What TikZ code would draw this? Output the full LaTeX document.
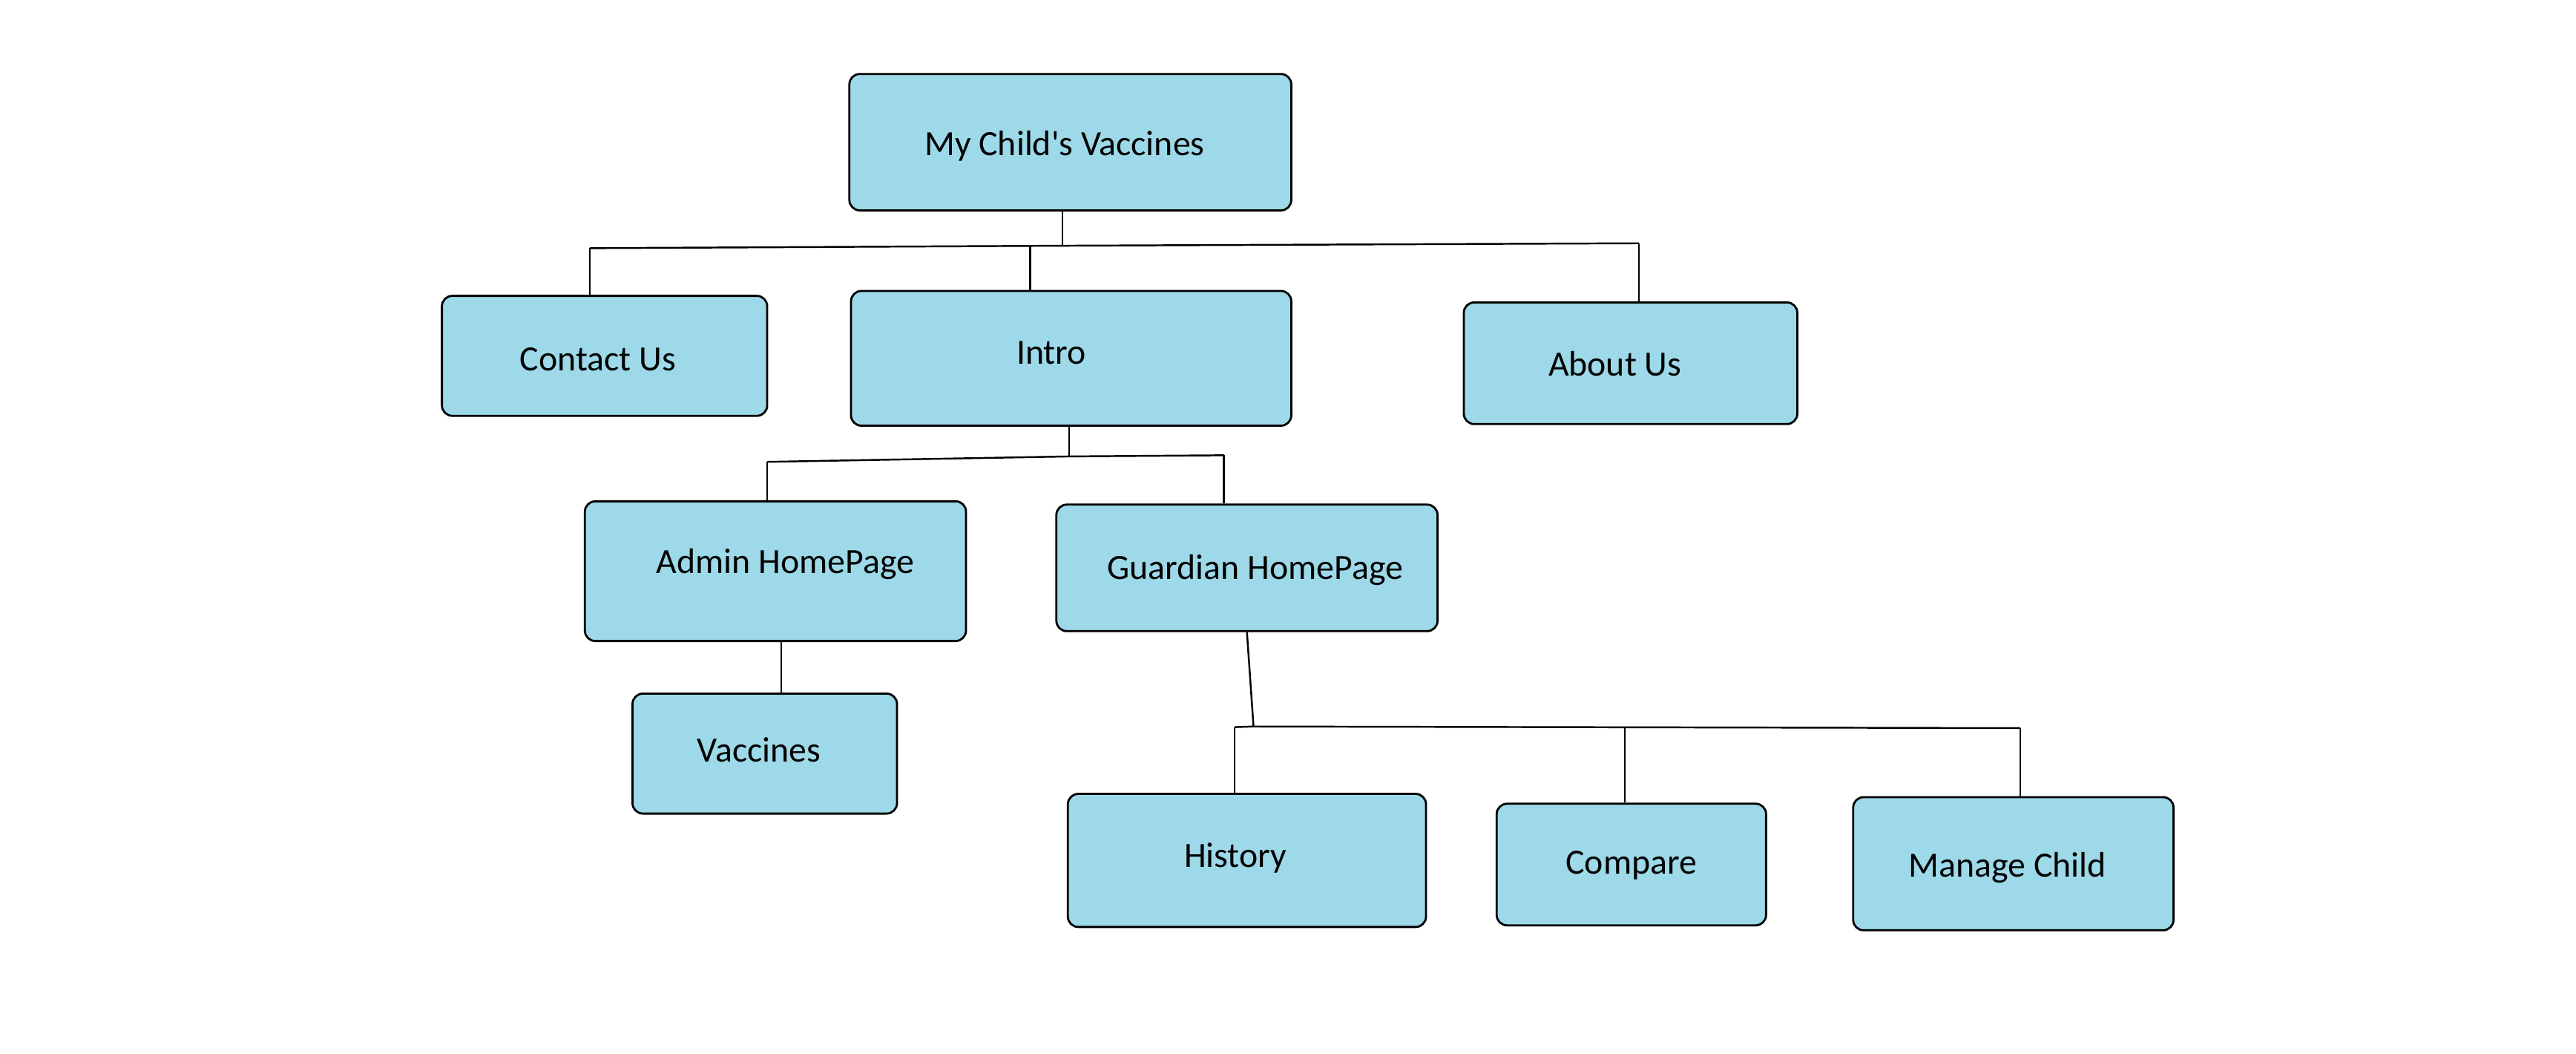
\documentclass[tikz,border=0pt]{standalone}
\usepackage{fontspec}
\setmainfont{Carlito}
\definecolor{boxfill}{RGB}{157,217,232}
\begin{document}
\begin{tikzpicture}[x=0.022143cm,y=-0.022143cm,
  box/.style 2 args={draw=black,line width=0.8pt,fill=boxfill,rounded corners=0.14cm,inner sep=0pt,
    minimum width=#1*0.022143cm,minimum height=#2*0.022143cm},
  lbl/.style={inner sep=0pt,font=\fontsize{13.6}{16}\selectfont,text height=0.65em,text depth=0pt,anchor=center},
  conn/.style={line width=0.7pt,draw=black}]
\useasboundingbox[fill=white] (0,0) rectangle (1568,641);

% boxes
\node[box={269}{83}] (top) at (651.5,86.5) {};
\node[box={198}{73}] (contact) at (368,216.5) {};
\node[box={268}{82}] (intro) at (652,218) {};
\node[box={203}{74}] (about) at (992.5,221) {};
\node[box={232}{85}] (admin) at (472,347.5) {};
\node[box={232}{77}] (guardian) at (759,345.5) {};
\node[box={161}{73}] (vacc) at (465.5,458.5) {};
\node[box={218}{81}] (history) at (759,523.5) {};
\node[box={164}{74}] (compare) at (993,526) {};
\node[box={195}{81}] (manage) at (1225.5,525.5) {};

% labels
\node[lbl] (topT) at (648,89.5) {My Child\textquotesingle s Vaccines};
\node[lbl] (contactT) at (364,220.5) {Contact Us};
\node[lbl] (introT) at (640,216.5) {Intro};
\node[lbl] (aboutT) at (983,223.5) {About Us};
\node[lbl] (adminT) at (478,343.5) {Admin HomePage};
\node[lbl] (guardianT) at (764,347.5) {Guardian HomePage};
\node[lbl] (vaccT) at (462,458.5) {Vaccines};
\node[lbl] (historyT) at (752,522.5) {History};
\node[lbl] (compareT) at (993,526.5) {Compare};
\node[lbl] (manageT) at (1222,528.5) {Manage Child};

% tree 1
\coordinate (a1) at (646.7,149.5);
\coordinate (a1L) at (359,151);
\coordinate (a1R) at (997.6,148);
\coordinate (a1I) at (627,149.5);
\draw[conn] (top.south -| a1) -- (a1);
\draw[conn] (a1L) -- (a1) -- (a1R);
\draw[conn] (a1L) -- (a1L |- contact.north);
\draw[conn] (a1I) -- (a1I |- intro.north);
\draw[conn] (a1R) -- (a1R |- about.north);

% tree 2
\coordinate (b1) at (650.7,277.7);
\coordinate (b1L) at (467,281);
\coordinate (b1R) at (745,277);
\draw[conn] (intro.south -| b1) -- (b1);
\draw[conn] (b1L) -- (b1) -- (b1R);
\draw[conn] (b1L) -- (b1L |- admin.north);
\draw[conn] (b1R) -- (b1R |- guardian.north);

% admin -> vaccines
\coordinate (c1) at (475.5,400);
\draw[conn] (admin.south -| c1) -- (vacc.north -| c1);

% tree 3
\coordinate (d1) at (763,442);
\coordinate (d1L) at (751.5,442.4);
\coordinate (d1R) at (1229.7,443);
\coordinate (d1C) at (989,443);
\draw[conn] (guardian.south) -- (d1);
\draw[conn] (d1L) -- (d1) -- (d1R);
\draw[conn] (d1L) -- (history.north -| d1L);
\draw[conn] (d1C) -- (compare.north -| d1C);
\draw[conn] (d1R) -- (manage.north -| d1R);
\end{tikzpicture}
\end{document}
